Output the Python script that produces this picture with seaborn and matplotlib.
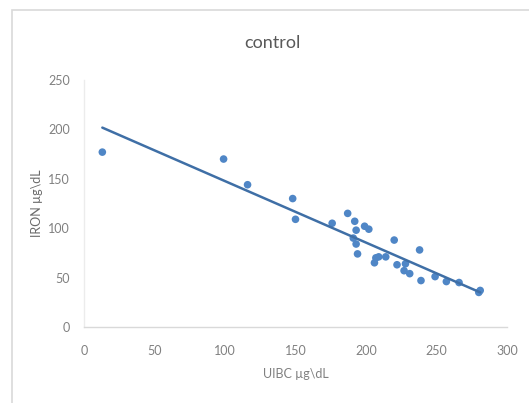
import matplotlib
matplotlib.use("Agg")
import matplotlib.pyplot as plt
from matplotlib.patches import Rectangle
import seaborn as sns
import pandas as pd

# UIBC vs serum iron, control group
uibc = [13, 99, 116, 148, 150, 176, 187, 192, 193, 191, 193, 194, 199, 202, 206,
        207, 209, 214, 220, 222, 227, 228, 231, 238, 239, 249, 257, 266, 280, 281]
iron = [177, 170, 144, 130, 109, 105, 115, 107, 98, 90, 84, 74, 102, 99, 65,
        70, 71, 71, 88, 63, 57, 64, 54, 78, 47, 51, 46, 45, 35, 37]

x_ticks = [0, 50, 100, 150, 200, 250, 300]
y_ticks = [0, 50, 100, 150, 200, 250]

df = pd.DataFrame({"UIBC": uibc, "IRON": iron})

sns.set_theme(style="white")
plt.rcParams["font.family"] = ["Lato", "DejaVu Sans"]

text_gray = "#808080"
point_blue = "#4f86c6"
line_blue = "#3f6fa6"

fig = plt.figure(figsize=(5.29, 4.03), dpi=100)
ax = fig.add_axes([84 / 529, 1 - 327 / 403, (507 - 84) / 529, (327 - 80) / 403])

sns.regplot(data=df, x="UIBC", y="IRON", ax=ax, ci=None, truncate=True,
            scatter_kws=dict(s=30, color=point_blue, edgecolor="none", alpha=1),
            line_kws=dict(color=line_blue, lw=1.8))

ax.set_xlim(0, 300)
ax.set_ylim(0, 250)
ax.set_xticks(x_ticks)
ax.set_yticks(y_ticks)
ax.tick_params(axis="x", colors=text_gray, labelsize=9, length=3, width=0.8,
               direction="out", pad=10, color="#d9d9d9")
ax.tick_params(axis="y", colors=text_gray, labelsize=9, length=0, pad=10)

for side in ["top", "right"]:
    ax.spines[side].set_visible(False)
ax.spines["bottom"].set_color("#d9d9d9")
ax.spines["bottom"].set_linewidth(1.0)
ax.spines["left"].set_color("#ececec")
ax.spines["left"].set_linewidth(1.0)

ax.set_xlabel("UIBC µg\\dL", color=text_gray, fontsize=9, labelpad=8)
ax.set_ylabel("IRON µg\\dL", color="#6a6a6a", fontsize=9, labelpad=4)
fig.text(272 / 529, 1 - 43 / 403, "control", ha="center", va="center",
         fontsize=13, color="#595959")

# chart area frame
frame = Rectangle((12 / 529, -0.1), 1.2, 1.1 - 10 / 403, transform=fig.transFigure,
                  fill=False, edgecolor="#d9d9d9", lw=1.2, clip_on=False)
fig.patches.append(frame)

fig.savefig("out.png", dpi=100, facecolor="white")
